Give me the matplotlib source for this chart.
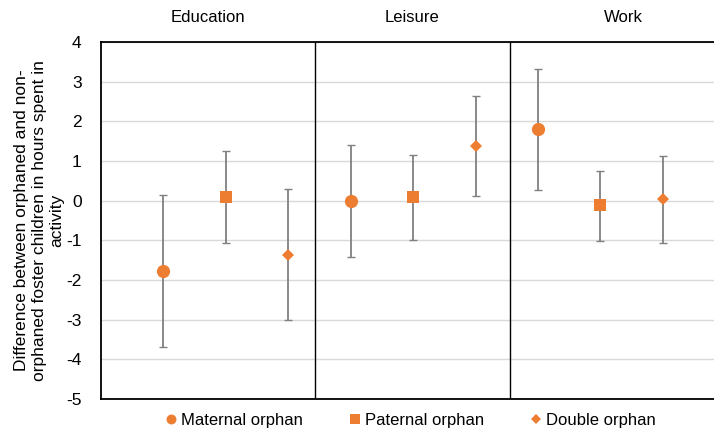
import matplotlib
matplotlib.use("Agg")
import matplotlib.pyplot as plt
from matplotlib.lines import Line2D

plt.rcParams["font.family"] = ["Liberation Sans", "DejaVu Sans"]

# --- Data: difference in hours (orphaned minus non-orphaned), with CI bounds ---
activities = ["Education", "Leisure", "Work"]
groups = ["Maternal orphan", "Paternal orphan", "Double orphan"]

estimate = {
    "Maternal orphan": [-1.78, -0.01, 1.80],
    "Paternal orphan": [0.10, 0.10, -0.11],
    "Double orphan":   [-1.36, 1.37, 0.03],
}
ci_upper = {
    "Maternal orphan": [0.14, 1.41, 3.31],
    "Paternal orphan": [1.25, 1.16, 0.76],
    "Double orphan":   [0.29, 2.64, 1.13],
}
ci_lower = {
    "Maternal orphan": [-3.69, -1.41, 0.27],
    "Paternal orphan": [-1.08, -0.99, -1.02],
    "Double orphan":   [-3.02, 0.12, -1.08],
}
y_ticks = [-5, -4, -3, -2, -1, 0, 1, 2, 3, 4]

ORANGE = "#ED7D31"
markers = {"Maternal orphan": ("o", 9.5),
           "Paternal orphan": ("s", 9),
           "Double orphan": ("D", 6.5)}

# panel boundaries along the x axis (third panel runs past the right edge)
panel_edges = [0, 3.42, 6.55, 10.2]

fig = plt.figure(figsize=(7.14, 4.32), dpi=100)
ax = fig.add_axes([0.1415, 0.0764, 0.8585, 0.8264])

for gi, g in enumerate(groups):
    xs = [ai * 3 + gi + 1 for ai in range(len(activities))]
    ys = estimate[g]
    lo = [y - l for y, l in zip(ys, ci_lower[g])]
    hi = [u - y for y, u in zip(ys, ci_upper[g])]
    ax.errorbar(xs, ys, yerr=[lo, hi], fmt="none", ecolor="#808080",
                elinewidth=1.3, capsize=3, capthick=1.0, zorder=2)
    m, ms = markers[g]
    ax.plot(xs, ys, linestyle="none", marker=m, markersize=ms,
            color=ORANGE, markeredgewidth=0, zorder=3)

# panel separators
for xsep in panel_edges[1:-1]:
    ax.axvline(xsep, color="black", linewidth=1.0, zorder=1)

ax.set_xlim(0, 9.82)
ax.set_ylim(-5, 4)
ax.set_yticks(y_ticks)
ax.set_yticklabels([str(t) for t in y_ticks], fontsize=12.5)
ax.set_xticks([])
ax.tick_params(axis="y", length=0, pad=14)
ax.grid(axis="y", color="#d9d9d9", linewidth=1.0, zorder=0)
ax.set_axisbelow(True)

for side in ["left", "bottom", "top"]:
    ax.spines[side].set_color("black")
    ax.spines[side].set_linewidth(1.3)
ax.spines["right"].set_visible(False)

# activity headers centred over each panel
for ai, name in enumerate(activities):
    xc = (panel_edges[ai] + panel_edges[ai + 1]) / 2
    ax.text(xc, 4.63, name, ha="center", va="center", fontsize=12)

ax.set_ylabel("Difference between orphaned and non-\n"
              "orphaned foster children in hours spent in\nactivity",
              fontsize=12.5, linespacing=1.22, labelpad=1)

handles = [Line2D([], [], linestyle="none", marker=markers[g][0],
                  markersize=markers[g][1] * 0.75, color=ORANGE,
                  markeredgewidth=0, label=g) for g in groups]
fig.legend(handles=handles, loc="center", bbox_to_anchor=(0.573, 0.026),
           ncol=3, frameon=False, fontsize=12, handletextpad=0.1,
           columnspacing=2.6, handlelength=1.0)

fig.savefig("out.png", dpi=100)
